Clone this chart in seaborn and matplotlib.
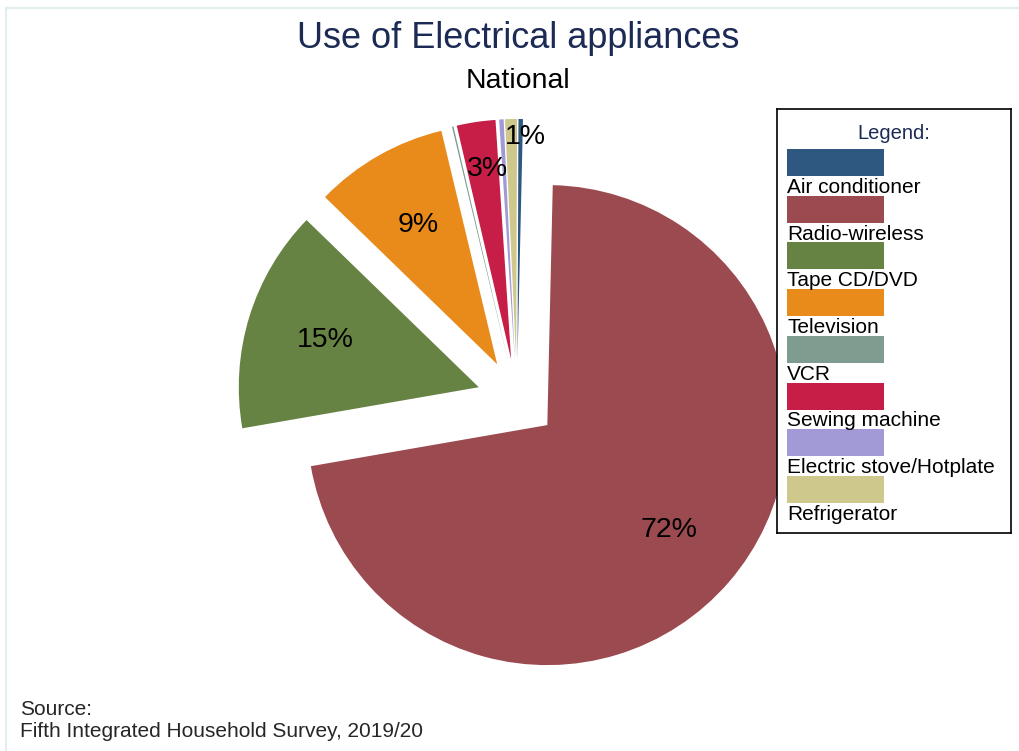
import matplotlib
matplotlib.use("Agg")
import matplotlib.pyplot as plt
import seaborn as sns
import numpy as np
from matplotlib.patches import Rectangle
from matplotlib.lines import Line2D

# Appliance categories and their share of use (%)
categories = ["Air conditioner", "Radio-wireless", "Tape CD/DVD", "Television",
              "VCR", "Sewing machine", "Electric stove/Hotplate", "Refrigerator"]
shares = [0.3, 71.9, 15.0, 9.0, 0.1, 2.6, 0.3, 0.8]
colors = ["#2e5880", "#9b4a50", "#678343", "#e88b1b",
          "#7f9c91", "#c71e48", "#a19ad6", "#cec88c"]

title = "Use of Electrical appliances"
subtitle = "National"
legend_title = "Legend:"
source_lines = ["Source:", "Fifth Integrated Household Survey, 2019/20"]

sns.set_theme(style="white")
plt.rcParams["font.family"] = ["Liberation Sans", "DejaVu Sans"]

NAVY = "#1c2b55"
W, H = 1019, 751
fig = plt.figure(figsize=(W / 100, H / 100), dpi=100)
fig.patch.set_facecolor("white")


def fx(px):
    return px / W


def fy(py):
    return 1 - py / H


# faint outer frame
fig.add_artist(Line2D([fx(6), 1], [fy(8), fy(8)], color="#e2edef", lw=1.5))
fig.add_artist(Line2D([fx(6), fx(6)], [fy(8), 0], color="#e2edef", lw=1.5))

# titles
fig.text(fx(518), fy(48), title, ha="center", va="baseline", fontsize=26, color=NAVY)
fig.text(fx(518), fy(88), subtitle, ha="center", va="baseline", fontsize=20.5, color="black")

# pie
R = 240
cx, cy = 517, 399
half = 300
ax = fig.add_axes([fx(cx - half), fy(cy + half), 2 * half / W, 2 * half / H])
explode_frac = 40 / R
total = sum(shares)
rotation = -1.3
start = 90 + 360 * shares[0] / total + rotation
wedges, _ = ax.pie(shares, colors=colors, explode=[explode_frac] * len(shares),
                   startangle=start, counterclock=False, radius=1,
                   wedgeprops=dict(linewidth=0))
ax.set_xlim(-half / R, half / R)
ax.set_ylim(-half / R, half / R)
ax.set_aspect("equal")
ax.axis("off")

# percentage labels: radial distance from the exploded centre, plus angular nudge
label_place = {"Sewing machine": (0.80, -1.4), "Refrigerator": (0.926, -3.6)}
for name, w, val in zip(categories, wedges, shares):
    pct = 100 * val / total
    if round(pct) < 1:
        continue
    mid = np.deg2rad((w.theta1 + w.theta2) / 2)
    ex = explode_frac * np.array([np.cos(mid), np.sin(mid)])
    dist, shift = label_place.get(name, (0.667, 0.0))
    ang = mid + np.deg2rad(shift)
    x, y = ex + dist * np.array([np.cos(ang), np.sin(ang)])
    ax.text(x, y, f"{pct:.0f}%", ha="center", va="center", fontsize=20.5, color="black")

# legend box: swatch on one line, label beneath
lx0, ly0, lx1, ly1 = 777, 109, 1011, 533
lax = fig.add_axes([fx(lx0), fy(ly1), (lx1 - lx0) / W, (ly1 - ly0) / H])
lax.set_xlim(0, lx1 - lx0)
lax.set_ylim(ly1 - ly0, 0)
lax.set_xticks([])
lax.set_yticks([])
lax.set_facecolor("white")
for s in lax.spines.values():
    s.set_visible(True)
    s.set_color("black")
    s.set_linewidth(1.2)
lax.text((lx1 - lx0) / 2, 139 - ly0, legend_title, ha="center", va="baseline",
         fontsize=14.5, color=NAVY)
step = 46.7
for i, (name, col) in enumerate(zip(categories, colors)):
    top = 149 - ly0 + i * step
    lax.add_patch(Rectangle((10, top), 97, 27, facecolor=col, edgecolor="none"))
    lax.text(10, top + 44, name, ha="left", va="baseline", fontsize=15, color="black")

# source note
fig.text(fx(20), fy(715), source_lines[0], ha="left", va="baseline", fontsize=15)
fig.text(fx(20), fy(737), source_lines[1], ha="left", va="baseline", fontsize=15)

fig.savefig("out.png", dpi=100, facecolor="white")
